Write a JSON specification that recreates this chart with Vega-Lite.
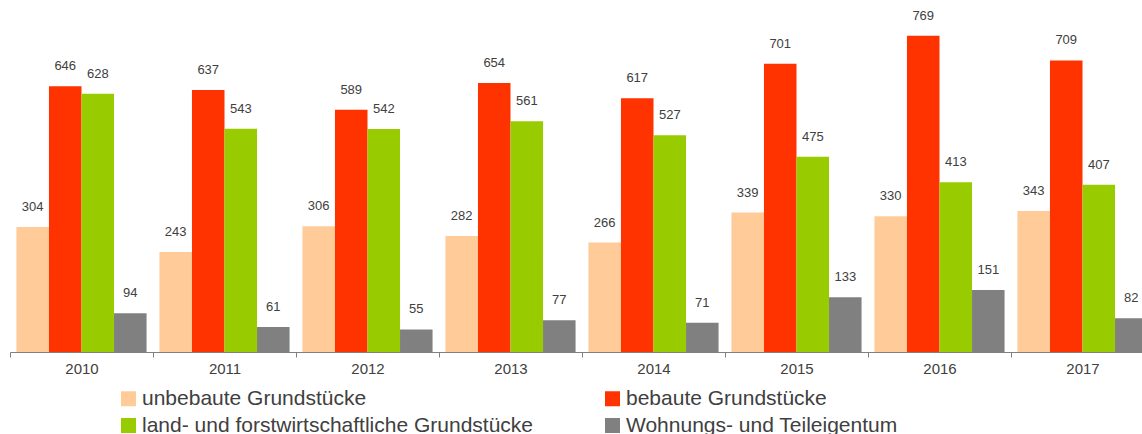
{
  "$schema": "https://vega.github.io/schema/vega-lite/v6.json",
  "width": 1144,
  "height": 352,
  "padding": {"left": 10, "top": 0, "right": 0, "bottom": 82},
  "autosize": {"type": "none"},
  "background": "white",
  "config": {"view": {"stroke": null}, "font": "Liberation Sans"},
  "data": {
    "values": [
      {"year": "2010", "cat": "unbebaute Grundstücke", "v": 304},
      {"year": "2010", "cat": "bebaute Grundstücke", "v": 646},
      {"year": "2010", "cat": "land- und forstwirtschaftliche Grundstücke", "v": 628},
      {"year": "2010", "cat": "Wohnungs- und Teileigentum", "v": 94},
      {"year": "2011", "cat": "unbebaute Grundstücke", "v": 243},
      {"year": "2011", "cat": "bebaute Grundstücke", "v": 637},
      {"year": "2011", "cat": "land- und forstwirtschaftliche Grundstücke", "v": 543},
      {"year": "2011", "cat": "Wohnungs- und Teileigentum", "v": 61},
      {"year": "2012", "cat": "unbebaute Grundstücke", "v": 306},
      {"year": "2012", "cat": "bebaute Grundstücke", "v": 589},
      {"year": "2012", "cat": "land- und forstwirtschaftliche Grundstücke", "v": 542},
      {"year": "2012", "cat": "Wohnungs- und Teileigentum", "v": 55},
      {"year": "2013", "cat": "unbebaute Grundstücke", "v": 282},
      {"year": "2013", "cat": "bebaute Grundstücke", "v": 654},
      {"year": "2013", "cat": "land- und forstwirtschaftliche Grundstücke", "v": 561},
      {"year": "2013", "cat": "Wohnungs- und Teileigentum", "v": 77},
      {"year": "2014", "cat": "unbebaute Grundstücke", "v": 266},
      {"year": "2014", "cat": "bebaute Grundstücke", "v": 617},
      {"year": "2014", "cat": "land- und forstwirtschaftliche Grundstücke", "v": 527},
      {"year": "2014", "cat": "Wohnungs- und Teileigentum", "v": 71},
      {"year": "2015", "cat": "unbebaute Grundstücke", "v": 339},
      {"year": "2015", "cat": "bebaute Grundstücke", "v": 701},
      {"year": "2015", "cat": "land- und forstwirtschaftliche Grundstücke", "v": 475},
      {"year": "2015", "cat": "Wohnungs- und Teileigentum", "v": 133},
      {"year": "2016", "cat": "unbebaute Grundstücke", "v": 330},
      {"year": "2016", "cat": "bebaute Grundstücke", "v": 769},
      {"year": "2016", "cat": "land- und forstwirtschaftliche Grundstücke", "v": 413},
      {"year": "2016", "cat": "Wohnungs- und Teileigentum", "v": 151},
      {"year": "2017", "cat": "unbebaute Grundstücke", "v": 343},
      {"year": "2017", "cat": "bebaute Grundstücke", "v": 709},
      {"year": "2017", "cat": "land- und forstwirtschaftliche Grundstücke", "v": 407},
      {"year": "2017", "cat": "Wohnungs- und Teileigentum", "v": 82}
    ]
  },
  "encoding": {
    "x": {
      "field": "year", "type": "nominal",
      "scale": {"paddingInner": 0.09, "paddingOuter": 0.045},
      "axis": {
        "title": null, "labelAngle": 0, "bandPosition": 0, "tickOffset": -6.45, "labelOffset": 6.45,
        "domainColor": "#808080", "tickColor": "#808080", "tickSize": 5,
        "labelFontSize": 15, "labelColor": "#404040", "labelPadding": 4
      }
    },
    "xOffset": {
      "field": "cat", "type": "nominal",
      "sort": ["unbebaute Grundstücke", "bebaute Grundstücke", "land- und forstwirtschaftliche Grundstücke", "Wohnungs- und Teileigentum"],
      "scale": {"paddingInner": 0, "paddingOuter": 0}
    },
    "y": {
      "field": "v", "type": "quantitative",
      "scale": {"domain": [0, 856], "nice": false},
      "axis": null
    }
  },
  "layer": [
    {
      "mark": {"type": "bar"},
      "encoding": {
        "color": {
          "field": "cat", "type": "nominal",
          "scale": {
            "domain": ["unbebaute Grundstücke", "land- und forstwirtschaftliche Grundstücke", "bebaute Grundstücke", "Wohnungs- und Teileigentum"],
            "range": ["#FFCC99", "#99CC00", "#FF3300", "#808080"]
          },
          "legend": {
            "title": null, "orient": "none", "legendX": 108, "legendY": 388,
            "columns": 2, "columnPadding": 68, "rowPadding": 5,
            "symbolType": "square", "symbolSize": 225, "symbolStrokeWidth": 0,
            "labelFontSize": 21, "labelColor": "#404040", "labelOffset": 3,
            "labelLimit": 500
          }
        }
      }
    },
    {
      "mark": {"type": "text", "baseline": "middle", "dy": -20, "fontSize": 13, "color": "#404040"},
      "encoding": {"text": {"field": "v", "type": "quantitative"}}
    }
  ]
}
